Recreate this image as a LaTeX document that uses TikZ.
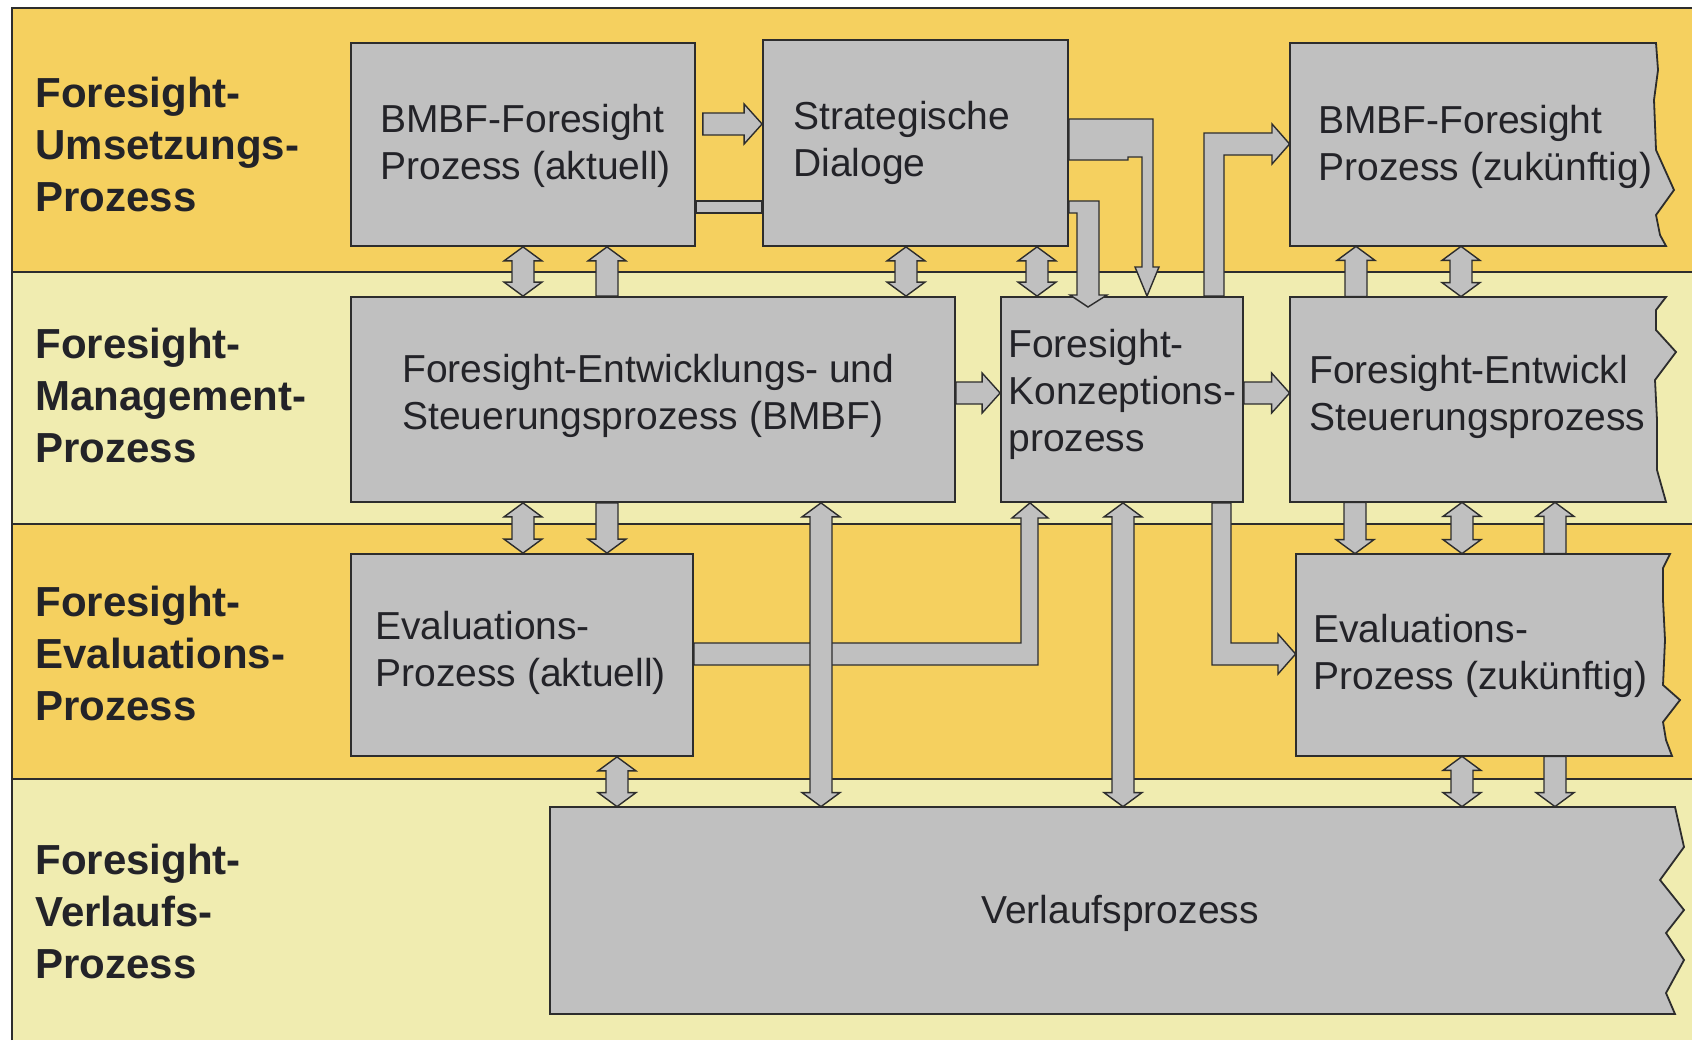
\documentclass[tikz,border=0pt]{standalone}
\usepackage{fontspec}
\setmainfont{Liberation Sans}
\usetikzlibrary{calc,fit}
\definecolor{darkband}{RGB}{245,208,95}
\definecolor{lightband}{RGB}{240,236,176}
\definecolor{boxgray}{RGB}{192,192,192}
\definecolor{edge}{RGB}{45,45,45}
\definecolor{ink}{RGB}{35,35,40}
\tikzset{
  box/.style={draw=edge, fill=boxgray, line width=0.9pt, inner sep=0pt},
  anchorbox/.style={draw=none, fill=none, inner sep=0pt},
  barrow/.style={draw=edge, fill=boxgray, line width=0.7pt, line join=miter},
  btxt/.style={inner sep=0pt, anchor=base west, text=ink, font=\fontsize{19.5}{23.5}\selectfont},
  ltxt/.style={inner sep=0pt, anchor=base west, text=ink, font=\bfseries\fontsize{21}{26}\selectfont},
  sepline/.style={draw=edge, line width=0.9pt},
}
% vertical double arrow: x, upper node, lower node
\newcommand\ArrDbl[3]{%
  \path (#1,0 |- #2.south) coordinate (aT) (#1,0 |- #3.north) coordinate (aB);
  \draw[barrow] (aT) -- ($(aT)+(19,14)$) -- ($(aT)+(11,14)$) -- ($(aB)+(11,-14)$) -- ($(aB)+(19,-14)$) -- (aB) -- ($(aB)+(-19,-14)$) -- ($(aB)+(-11,-14)$) -- ($(aT)+(-11,14)$) -- ($(aT)+(-19,14)$) -- cycle;}
% vertical up arrow: x, upper node (tip), lower node (tail)
\newcommand\ArrUp[3]{%
  \path (#1,0 |- #2.south) coordinate (aT) (#1,0 |- #3.north) coordinate (aB);
  \draw[barrow] (aT) -- ($(aT)+(19,14)$) -- ($(aT)+(11,14)$) -- ($(aB)+(11,0)$) -- ($(aB)+(-11,0)$) -- ($(aT)+(-11,14)$) -- ($(aT)+(-19,14)$) -- cycle;}
% vertical down arrow: x, upper node (tail), lower node (tip)
\newcommand\ArrDown[3]{%
  \path (#1,0 |- #2.south) coordinate (aT) (#1,0 |- #3.north) coordinate (aB);
  \draw[barrow] (aB) -- ($(aB)+(19,-14)$) -- ($(aB)+(11,-14)$) -- ($(aT)+(11,0)$) -- ($(aT)+(-11,0)$) -- ($(aB)+(-11,-14)$) -- ($(aB)+(-19,-14)$) -- cycle;}
% horizontal right arrow: y, left node, right node, gap
\newcommand\ArrRight[4]{%
  \path ($(#2.east |- 0,#1)+(#4,0)$) coordinate (aL) (#3.west |- 0,#1) coordinate (aR);
  \draw[barrow] ($(aL)+(0,-11)$) -- ($(aR)+(-18,-11)$) -- ($(aR)+(-18,-20)$) -- (aR) -- ($(aR)+(-18,20)$) -- ($(aR)+(-18,11)$) -- ($(aL)+(0,11)$) -- cycle;}
\begin{document}
\begin{tikzpicture}[x=0.5pt,y=-0.5pt]
\useasboundingbox (0,0) rectangle (1692,1040);
% background bands
\fill[white] (0,0) rectangle (1692,1040);
\fill[darkband] (12,8) rectangle (1692,272);
\fill[lightband] (12,272) rectangle (1692,524);
\fill[darkband] (12,524) rectangle (1692,779);
\fill[lightband] (12,779) rectangle (1692,1040);
\draw[sepline] (12,272) -- (1692,272);
\draw[sepline] (12,524) -- (1692,524);
\draw[sepline] (12,779) -- (1692,779);
\draw[edge, line width=1.2pt] (12,1040) -- (12,8) -- (1692,8);

% row labels
\node[ltxt] (lab1) at (35,107) {\begin{tabular}[t]{@{}l@{}}Foresight-\\Umsetzungs-\\Prozess\end{tabular}};
\node[ltxt] (lab2) at (35,358) {\begin{tabular}[t]{@{}l@{}}Foresight-\\Management-\\Prozess\end{tabular}};
\node[ltxt] (lab3) at (35,616) {\begin{tabular}[t]{@{}l@{}}Foresight-\\Evaluations-\\Prozess\end{tabular}};
\node[ltxt] (lab4) at (35,874) {\begin{tabular}[t]{@{}l@{}}Foresight-\\Verlaufs-\\Prozess\end{tabular}};

% boxes
\node[box, fit={(351,43)(695,246)}] (bmbfa) {};
\node[box, fit={(763,40)(1068,246)}] (strat) {};
\node[anchorbox, fit={(1290,43)(1666,246)}] (bmbfz) {};
\filldraw[box] (1290,43) -- (1656,43) -- (1658,70) -- (1654,100) -- (1656,150) -- (1674,190) -- (1656,215) -- (1660,235) -- (1666,246) -- (1290,246) -- cycle;
\node[box, fit={(351,297)(955,502)}] (entw) {};
\node[box, fit={(1001,297)(1243,502)}] (konz) {};
\node[anchorbox, fit={(1290,297)(1666,502)}] (entwz) {};
\filldraw[box] (1290,297) -- (1666,297) -- (1656,310) -- (1656,330) -- (1676,352) -- (1655,380) -- (1657,420) -- (1657,470) -- (1666,502) -- (1290,502) -- cycle;
\node[box, fit={(351,554)(693,756)}] (evala) {};
\node[anchorbox, fit={(1296,554)(1670,756)}] (evalz) {};
\filldraw[box] (1296,554) -- (1670,554) -- (1663,568) -- (1663,600) -- (1665,640) -- (1663,685) -- (1680,700) -- (1663,722) -- (1666,740) -- (1672,756) -- (1296,756) -- cycle;
\node[anchorbox, fit={(550,807)(1675,1014)}] (verl) {};
\filldraw[box] (550,807) -- (1675,807) -- (1684,847) -- (1660,880) -- (1684,910) -- (1666,933) -- (1684,960) -- (1666,993) -- (1675,1014) -- (550,1014) -- cycle;

% box texts
\node[btxt] (bmbfa-t) at (380,132) {\begin{tabular}[t]{@{}l@{}}BMBF-Foresight\\Prozess (aktuell)\end{tabular}};
\node[btxt] (strat-t) at (793,129) {\begin{tabular}[t]{@{}l@{}}Strategische\\Dialoge\end{tabular}};
\node[btxt] (bmbfz-t) at (1318,133) {\begin{tabular}[t]{@{}l@{}}BMBF-Foresight\\Prozess (zukünftig)\end{tabular}};
\node[btxt] (entw-t) at (402,382) {\begin{tabular}[t]{@{}l@{}}Foresight-Entwicklungs- und\\Steuerungsprozess (BMBF)\end{tabular}};
\node[btxt] (konz-t) at (1008,357) {\begin{tabular}[t]{@{}l@{}}Foresight-\\Konzeptions-\\prozess\end{tabular}};
\node[btxt] (entwz-t) at (1309,383) {\begin{tabular}[t]{@{}l@{}}Foresight-Entwickl\\Steuerungsprozess\end{tabular}};
\node[btxt] (evala-t) at (375,639) {\begin{tabular}[t]{@{}l@{}}Evaluations-\\Prozess (aktuell)\end{tabular}};
\node[btxt] (evalz-t) at (1313,642) {\begin{tabular}[t]{@{}l@{}}Evaluations-\\Prozess (zukünftig)\end{tabular}};
\node[btxt, anchor=base] (verl-t) at (1120,923) {Verlaufsprozess};

% --- connectors, row 1 ---
\ArrRight{124}{bmbfa}{strat}{7}
\draw[barrow] (bmbfa.east |- 0,201) rectangle (strat.west |- 0,213);
% BMBF (aktuell) -> Konzeption (behind Strategische Dialoge)
\draw[barrow] (strat.east |- 0,201) -- (1099,201) -- (1099,295) -- (1107,295) -- (1088,307) -- (1070,295) -- (1077,295) -- (1077,213) -- (strat.east |- 0,213) -- cycle;
% Strategische Dialoge -> Konzeption
\draw[barrow] (strat.east |- 0,119) -- (1153,119) -- (1153,267) -- (1159,267) -- (1147,0 |- konz.north) -- (1135,267) -- (1142,267) -- (1142,157) -- (1128,157) -- (1128,160) -- (strat.east |- 0,160) -- cycle;
% Konzeption -> BMBF (zukuenftig)
\draw[barrow] (1204,0 |- konz.north) -- (1204,133) -- (1272,133) -- (1272,124) -- (bmbfz.west |- 0,144) -- (1272,164) -- (1272,155) -- (1224,155) -- (1224,0 |- konz.north) -- cycle;

% row 1 <-> row 2
\ArrDbl{523}{bmbfa}{entw}
\ArrUp{607}{bmbfa}{entw}
\ArrDbl{906}{strat}{entw}
\ArrDbl{1037}{strat}{konz}
\ArrUp{1356}{bmbfz}{entwz}
\ArrDbl{1461}{bmbfz}{entwz}

% row 2
\ArrRight{393}{entw}{konz}{0}
\ArrRight{393}{konz}{entwz}{0}

% row 2 <-> row 3 / 4
\ArrDbl{523}{entw}{evala}
\ArrDown{607}{entw}{evala}
% Evaluation (aktuell) -> Konzeption
\draw[barrow] (evala.east |- 0,643) -- (1021,643) -- (1021,518) -- (1012,518) -- (1030,0 |- konz.south) -- (1048,518) -- (1038,518) -- (1038,665) -- (evala.east |- 0,665) -- cycle;
\ArrDbl{821}{entw}{verl}
\ArrDbl{1123}{konz}{verl}
% Konzeption -> Evaluation (zukuenftig)
\draw[barrow] (1212,0 |- konz.south) -- (1212,665) -- (1278,665) -- (1278,674) -- (evalz.west |- 0,654) -- (1278,634) -- (1278,643) -- (1231,643) -- (1231,0 |- konz.south) -- cycle;
\ArrDown{1355}{entwz}{evalz}
\ArrDbl{1462}{entwz}{evalz}
\ArrUp{1555}{entwz}{evalz}

% row 3 <-> row 4
\ArrDbl{617}{evala}{verl}
\ArrDbl{1462}{evalz}{verl}
\ArrDown{1555}{evalz}{verl}
\end{tikzpicture}
\end{document}
